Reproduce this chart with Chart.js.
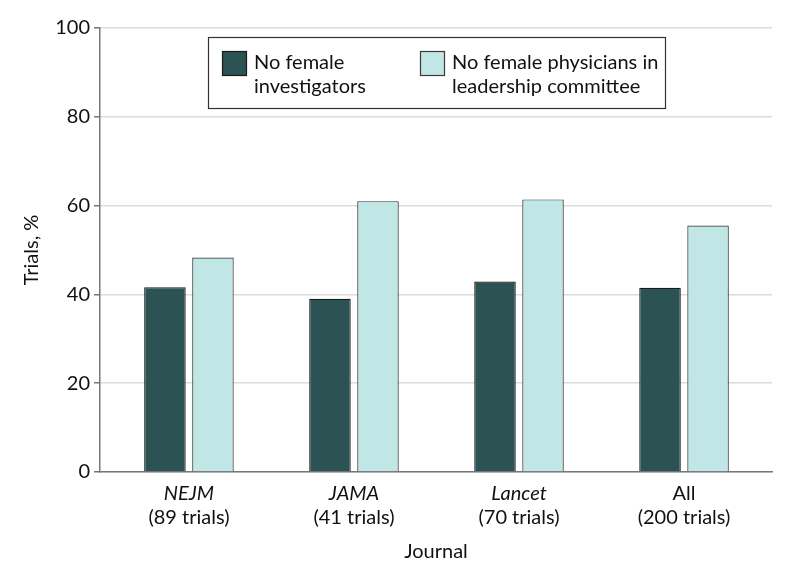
<!DOCTYPE html>
<html>
<head>
<meta charset="utf-8">
<script src="https://cdn.jsdelivr.net/npm/chart.js@4.4.1/dist/chart.umd.min.js"></script>
<style>
  html, body { margin: 0; padding: 0; background: #ffffff; }
  #wrap { width: 794px; height: 580px; position: relative; }
</style>
</head>
<body>
<div id="wrap"><canvas id="c" width="794" height="580"></canvas></div>
<script>
// ---- data ----
const journals = ['NEJM', 'JAMA', 'Lancet', 'All'];
const journalItalic = [true, true, true, false];
const trialCounts = ['(89 trials)', '(41 trials)', '(70 trials)', '(200 trials)'];
const noFemaleInvestigators = [41.6, 39.0, 42.9, 41.5];
const noFemaleLeadership = [48.3, 61.0, 61.4, 55.5];
const seriesNames = ['No female investigators', 'No female physicians in leadership committee'];
const legendLines = [['No female', 'investigators'], ['No female physicians in', 'leadership committee']];
const yTicks = [0, 20, 40, 60, 80, 100];

const FONT = 'Lato, "Open Sans", sans-serif';
const FS = 20;
const TEXT = '#111111';

const xLabelsPlugin = {
  id: 'xLabels',
  afterDraw(chart) {
    const ctx = chart.ctx;
    const xs = chart.scales.x;
    const top = chart.chartArea.bottom;
    ctx.save();
    ctx.fillStyle = TEXT;
    ctx.textAlign = 'center';
    ctx.textBaseline = 'middle';
    journals.forEach((j, i) => {
      const x = xs.getPixelForValue(i);
      ctx.font = (journalItalic[i] ? 'italic ' : '') + FS + 'px ' + FONT;
      ctx.fillText(j, x, top + 22);
      ctx.font = FS + 'px ' + FONT;
      ctx.fillText(trialCounts[i], x, top + 46);
    });
    ctx.restore();
  }
};

const legendPlugin = {
  id: 'boxLegend',
  afterDraw(chart) {
    const ctx = chart.ctx;
    const bx = 208.5, by = 37.5, bw = 457, bh = 71;
    ctx.save();
    ctx.fillStyle = '#ffffff';
    ctx.fillRect(bx, by, bw, bh);
    ctx.strokeStyle = '#333333';
    ctx.lineWidth = 1.2;
    ctx.strokeRect(bx, by, bw, bh);
    const itemX = [222, 420];
    chart.data.datasets.forEach((ds, i) => {
      const sx = itemX[i];
      ctx.fillStyle = ds.backgroundColor;
      ctx.fillRect(sx, 51, 25, 25);
      ctx.strokeStyle = ds.borderColor;
      ctx.lineWidth = 1.2;
      ctx.strokeRect(sx + 0.5, 51.5, 24, 24);
      ctx.fillStyle = TEXT;
      ctx.font = FS + 'px ' + FONT;
      ctx.textAlign = 'left';
      ctx.textBaseline = 'middle';
      legendLines[i].forEach((ln, k) => {
        ctx.fillText(ln, sx + 32, 63 + k * 24);
      });
    });
    ctx.restore();
  }
};

new Chart(document.getElementById('c'), {
  type: 'bar',
  data: {
    datasets: [
      {
        label: seriesNames[0],
        data: noFemaleInvestigators.map((v, i) => ({ x: i, y: v })),
        backgroundColor: '#2b5353',
        borderColor: '#1a1a1a',
        borderWidth: 1.2,
        categoryPercentage: 0.582,
        barPercentage: 0.865
      },
      {
        label: seriesNames[1],
        data: noFemaleLeadership.map((v, i) => ({ x: i, y: v })),
        backgroundColor: '#c0e6e5',
        borderColor: '#3a3a3a',
        borderWidth: 1.2,
        categoryPercentage: 0.582,
        barPercentage: 0.865
      }
    ]
  },
  options: {
    responsive: false,
    animation: false,
    layout: { padding: { left: 0, right: 22, top: 28, bottom: 12 } },
    plugins: {
      legend: { display: false },
      tooltip: { enabled: false }
    },
    scales: {
      x: {
        type: 'linear',
        offset: false,
        min: -0.539,
        max: 3.533,
        afterBuildTicks(scale) { scale.ticks = journals.map((_, i) => ({ value: i })); },
        grid: { display: false, drawTicks: false },
        border: { display: true, color: '#777777', width: 1.5 },
        ticks: { display: false },
        title: {
          display: true,
          text: 'Journal',
          color: TEXT,
          font: { family: FONT, size: FS },
          padding: { top: 0, bottom: 4 }
        },
        afterFit(scale) { scale.height = 96; }
      },
      y: {
        min: 0,
        max: 100,
        afterBuildTicks(scale) { scale.ticks = yTicks.map(v => ({ value: v })); },
        grid: { color: '#dcdcdc', lineWidth: 1.5, tickColor: '#777777', tickLength: 6 },
        border: { display: true, color: '#777777', width: 1.5 },
        ticks: {
          color: TEXT,
          padding: 4,
          font: { family: FONT, size: FS }
        },
        title: {
          display: true,
          text: 'Trials, %',
          color: TEXT,
          font: { family: FONT, size: FS },
          padding: { top: 20, bottom: 0 }
        },
        afterFit(scale) { scale.width = 100; }
      }
    }
  },
  plugins: [xLabelsPlugin, legendPlugin]
});
</script>
</body>
</html>
